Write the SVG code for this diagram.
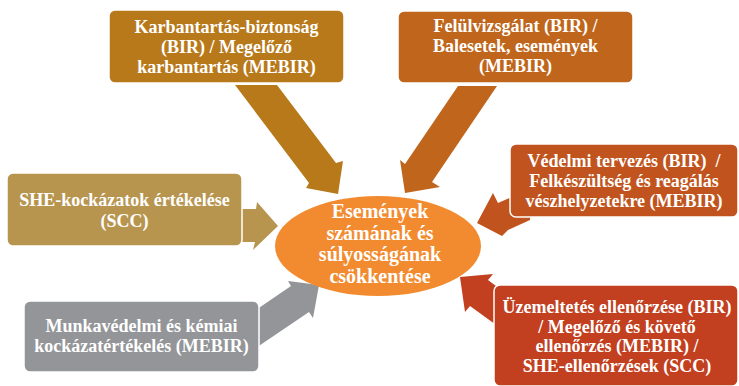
<svg xmlns="http://www.w3.org/2000/svg" width="739" height="386" viewBox="0 0 739 386">
<style>
.box{stroke:#ffffff;stroke-width:1.5}
.t{font-family:"Liberation Serif","Times New Roman",serif;font-weight:bold;font-size:18px;fill:#ffffff;text-anchor:middle}
.c{font-size:20px}
</style>
<rect width="739" height="386" fill="#ffffff"/>
<g id="connectors">
<polygon points="235,85 277,85 336,163 343,161 338,194 306,188 309,183" fill="#B8791B"/>
<polygon points="458,86 497,86 432,182 440,187 405,193 400,160 405,164" fill="#BF661C"/>
<polygon points="238,209 256,209 257,202 278,226 253,250 255,242 238,242" fill="#B8954F"/>
<polygon points="530,189 498,203 493,193 477,223 502,236 508,230 530,220" fill="#C1541E"/>
<polygon points="250,314 291,286 288,281 319,285 313,318 309,312 250,352" fill="#939598"/>
<polygon points="460,277 493,274 488,280 528,310 510,335 470,306 465,312" fill="#C23F1F"/>
</g>
<g id="center">
<ellipse cx="378" cy="246" rx="103" ry="50" fill="#F28B30"/>
<text class="t c" x="380" y="218">Események</text>
<text class="t c" x="380" y="240">számának és</text>
<text class="t c" x="380" y="261">súlyosságának</text>
<text class="t c" x="380" y="283">csökkentése</text>
</g>
<g id="karbantartas">
<rect class="box" x="109" y="10" width="235" height="73" rx="6" fill="#B8791B"/>
<text class="t" x="226.5" y="33">Karbantartás-biztonság</text>
<text class="t" x="226.5" y="53">(BIR) / Megelőző</text>
<text class="t" x="226.5" y="73">karbantartás (MEBIR)</text>
</g>
<g id="felulvizsgalat">
<rect class="box" x="398" y="11" width="235" height="72" rx="6" fill="#BF661C"/>
<text class="t" x="515.5" y="32">Felülvizsgálat (BIR) /</text>
<text class="t" x="515.5" y="52">Balesetek, események</text>
<text class="t" x="515.5" y="72">(MEBIR)</text>
</g>
<g id="she">
<rect class="box" x="7" y="173" width="235" height="73" rx="6" fill="#B8954F"/>
<text class="t" x="124.5" y="206">SHE-kockázatok értékelése</text>
<text class="t" x="124.5" y="227">(SCC)</text>
</g>
<g id="vedelmi">
<rect class="box" x="510" y="144" width="228" height="73" rx="6" fill="#C1541E"/>
<text class="t" x="624" y="167" style="white-space:pre">Védelmi tervezés (BIR)  /</text>
<text class="t" x="624" y="187">Felkészültség és reagálás</text>
<text class="t" x="624" y="207">vészhelyzetekre (MEBIR)</text>
</g>
<g id="munkavedelmi">
<rect class="box" x="24" y="301" width="235" height="71" rx="6" fill="#939598"/>
<text class="t" x="141.5" y="332">Munkavédelmi és kémiai</text>
<text class="t" x="141.5" y="352">kockázatértékelés (MEBIR)</text>
</g>
<g id="uzemeltetes">
<rect class="box" x="494" y="285" width="244" height="101" rx="6" fill="#C23F1F"/>
<text class="t" x="617" y="313">Üzemeltetés ellenőrzése (BIR)</text>
<text class="t" x="617" y="333">/ Megelőző és követő</text>
<text class="t" x="617" y="352">ellenőrzés (MEBIR) /</text>
<text class="t" x="617" y="372">SHE-ellenőrzések (SCC)</text>
</g>
</svg>
